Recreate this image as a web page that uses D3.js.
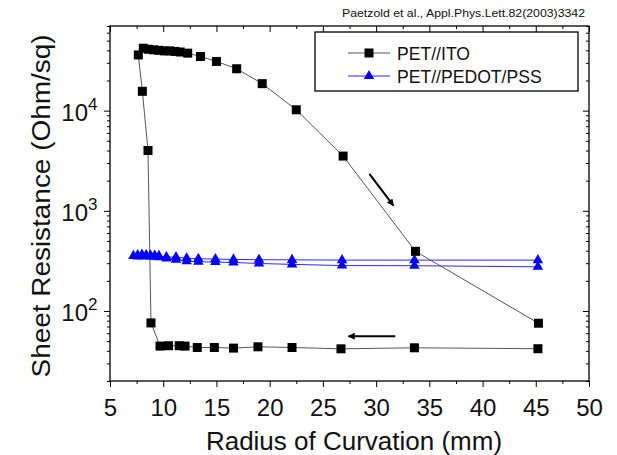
<!DOCTYPE html>
<meta charset="utf-8">
<script src="https://d3js.org/d3.v7.min.js"></script>
<style>
  body { margin: 0; background: #fff; }
  text { font-family: "Liberation Sans", Arial, sans-serif; fill: #111; }
</style>
<div id="chart"></div>
<script>
  // data
  const itoRadius = [45.2, 33.6, 26.7, 22.1, 18.9, 16.6, 14.8, 13.2, 12.05, 11.5, 10.5, 9.7, 8.85, 8.57, 8.04, 7.66, 8.13,
                     8.6, 9.1, 9.6, 10.1, 10.6, 11.1, 11.6, 12.3, 13.5, 15.0, 16.9, 19.3, 22.5, 26.9, 33.7, 45.25];
  const itoRes = [42, 42.9, 41.9, 43.2, 43.9, 42.6, 43.2, 43.2, 44.6, 45, 45, 44.6, 76, 4000, 15600, 36000, 42000,
                  41000, 40500, 40000, 39500, 39500, 39000, 38500, 37500, 34700, 31000, 26200, 18600, 10200, 3520, 394, 75.5];

  const pedotRadius = [7.2, 7.6, 8.0, 8.4, 8.8, 9.2, 9.6, 10.3, 11.2, 12.2, 13.3, 14.9, 16.6, 19.0, 22.1, 26.8, 33.6, 45.2,
                       45.2, 33.6, 26.8, 22.1, 19.0, 16.6, 14.9, 13.3, 12.2, 11.2, 10.3, 9.6, 9.2, 8.8, 8.4, 8.0, 7.6];
  const pedotRes = [355, 362, 365, 362, 360, 358, 355, 346, 345, 336, 332, 330, 327, 325, 324, 322, 322, 322,
                    276, 283, 284, 292, 298, 305, 308, 310, 314, 325, 335, 345, 348, 350, 352, 352, 350];

  const xMajor = [5, 10, 15, 20, 25, 30, 35, 40, 45, 50];
  const xMinor = [7.5, 12.5, 17.5, 22.5, 27.5, 32.5, 37.5, 42.5, 47.5];
  const yMajor = [100, 1000, 10000];
  const yMinor = [20, 30, 40, 50, 60, 70, 80, 90, 200, 300, 400, 500, 600, 700, 800, 900,
                  2000, 3000, 4000, 5000, 6000, 7000, 8000, 9000, 20000, 30000, 40000, 50000, 60000, 70000];
  const yExp = ["2", "3", "4"];

  // arrows [x1, y1, x2, y2] in data units
  const arrows = [[29.37, 2335, 31.63, 1129], [31.8, 56, 27.4, 56]];

  const legendNames = ["PET//ITO", "PET//PEDOT/PSS"];

  var margin = {top: 26, left: 110},
      width = 479, height = 355;

  var svg = d3.select("#chart").append("svg")
      .attr("width", 617).attr("height", 455);

  var defs = svg.append("defs");
  defs.append("marker").attr("id", "arr")
      .attr("viewBox", "0 0 10 10").attr("refX", 9).attr("refY", 5)
      .attr("markerWidth", 9).attr("markerHeight", 7)
      .attr("markerUnits", "userSpaceOnUse")
      .attr("orient", "auto")
    .append("path").attr("d", "M0,0 L10,5 L0,10 Z").attr("fill", "#000");

  var g = svg.append("g")
      .attr("transform", "translate(" + margin.left + "," + margin.top + ")");

  var x = d3.scaleLinear().domain([5, 50]).range([0, width]);
  var y = d3.scaleLog().domain([20, 70000]).range([height, 0]);

  // axes
  function noDomain(sel) { sel.select(".domain").remove(); sel.selectAll("line").attr("stroke", "#000"); }

  g.append("g").attr("transform", "translate(0," + height + ")")
    .call(d3.axisBottom(x).tickValues(xMajor).tickSize(6).tickPadding(12).tickFormat(d3.format("d")))
    .call(noDomain)
    .call(s => s.selectAll("text").style("font-size", "24px").attr("fill", "#111"));
  g.append("g").attr("transform", "translate(0," + height + ")")
    .call(d3.axisBottom(x).tickValues(xMinor).tickSize(3).tickFormat(""))
    .call(noDomain);
  g.append("g")
    .call(d3.axisTop(x).tickValues(xMajor).tickSize(-6).tickFormat(""))
    .call(noDomain);
  g.append("g")
    .call(d3.axisTop(x).tickValues(xMinor).tickSize(-3).tickFormat(""))
    .call(noDomain);

  g.append("g")
    .call(d3.axisLeft(y).tickValues(yMajor).tickSize(6).tickFormat(""))
    .call(noDomain);
  g.append("g")
    .call(d3.axisLeft(y).tickValues(yMinor).tickSize(3).tickFormat(""))
    .call(noDomain);
  g.append("g").attr("transform", "translate(" + width + ",0)")
    .call(d3.axisRight(y).tickValues(yMajor).tickSize(-6).tickFormat(""))
    .call(noDomain);
  g.append("g").attr("transform", "translate(" + width + ",0)")
    .call(d3.axisRight(y).tickValues(yMinor).tickSize(-3).tickFormat(""))
    .call(noDomain);

  // y tick labels 10^n
  yMajor.forEach(function(v, i) {
    g.append("text").attr("x", -22).attr("y", y(v) + 10)
      .attr("text-anchor", "end").style("font-size", "24px").text("10");
    g.append("text").attr("x", -22).attr("y", y(v) - 1)
      .attr("text-anchor", "start").style("font-size", "17px").text(yExp[i]);
  });

  // frame
  g.append("rect").attr("width", width).attr("height", height)
    .attr("fill", "none").attr("stroke", "#000").attr("stroke-width", 1.3);

  // series
  var ito = itoRadius.map((r, i) => [r, itoRes[i]]);
  var pedot = pedotRadius.map((r, i) => [r, pedotRes[i]]);
  var line = d3.line().x(d => x(d[0])).y(d => y(d[1]));

  g.append("path").datum(pedot).attr("d", line)
    .attr("fill", "none").attr("stroke", "#2a2aff").attr("stroke-width", 1);
  g.append("path").datum(ito).attr("d", line)
    .attr("fill", "none").attr("stroke", "#555").attr("stroke-width", 1);

  var tri = d3.symbol().type(d3.symbolTriangle).size(48);
  g.selectAll(".tri").data(pedot).join("path").attr("class", "tri")
    .attr("transform", d => "translate(" + x(d[0]) + "," + y(d[1]) + ")")
    .attr("d", tri).attr("fill", "#0000ff");

  g.selectAll(".sq").data(ito).join("rect").attr("class", "sq")
    .attr("x", d => x(d[0]) - 4.5).attr("y", d => y(d[1]) - 4.5)
    .attr("width", 9).attr("height", 9).attr("fill", "#000");

  // arrows
  g.selectAll(".arrow").data(arrows).join("line").attr("class", "arrow")
    .attr("x1", d => x(d[0])).attr("y1", d => y(d[1]))
    .attr("x2", d => x(d[2])).attr("y2", d => y(d[3]))
    .attr("stroke", "#000").attr("stroke-width", 2).attr("marker-end", "url(#arr)");

  // legend
  var lg = svg.append("g");
  lg.append("rect").attr("x", 315).attr("y", 32).attr("width", 263).attr("height", 59)
    .attr("fill", "#fff").attr("stroke", "#000").attr("stroke-width", 1.3);
  [53, 76].forEach(function(ly, i) {
    var col = i === 0 ? "#555" : "#2a2aff";
    lg.append("line").attr("x1", 348).attr("x2", 390).attr("y1", ly).attr("y2", ly)
      .attr("stroke", col).attr("stroke-width", 1);
    if (i === 0) {
      lg.append("rect").attr("x", 369 - 4.5).attr("y", ly - 4.5).attr("width", 9).attr("height", 9).attr("fill", "#000");
    } else {
      lg.append("path").attr("transform", "translate(369," + ly + ")").attr("d", tri).attr("fill", "#0000ff");
    }
    lg.append("text").attr("x", 397).attr("y", ly + 6.5).style("font-size", "17.6px").text(legendNames[i]);
  });

  // titles
  svg.append("text").attr("x", 354).attr("y", 450).attr("text-anchor", "middle")
    .style("font-size", "26px").text("Radius of Curvation (mm)");
  svg.append("text").attr("transform", "translate(50,206) rotate(-90)").attr("text-anchor", "middle")
    .style("font-size", "26px").attr("textLength", 343).attr("lengthAdjust", "spacingAndGlyphs")
    .text("Sheet Resistance (Ohm/sq)");
  svg.append("text").attr("x", 585).attr("y", 16.5).attr("text-anchor", "end")
    .style("font-size", "10.5px").attr("fill", "#222")
    .attr("textLength", 243).attr("lengthAdjust", "spacingAndGlyphs")
    .text("Paetzold et al., Appl.Phys.Lett.82(2003)3342");
</script>
